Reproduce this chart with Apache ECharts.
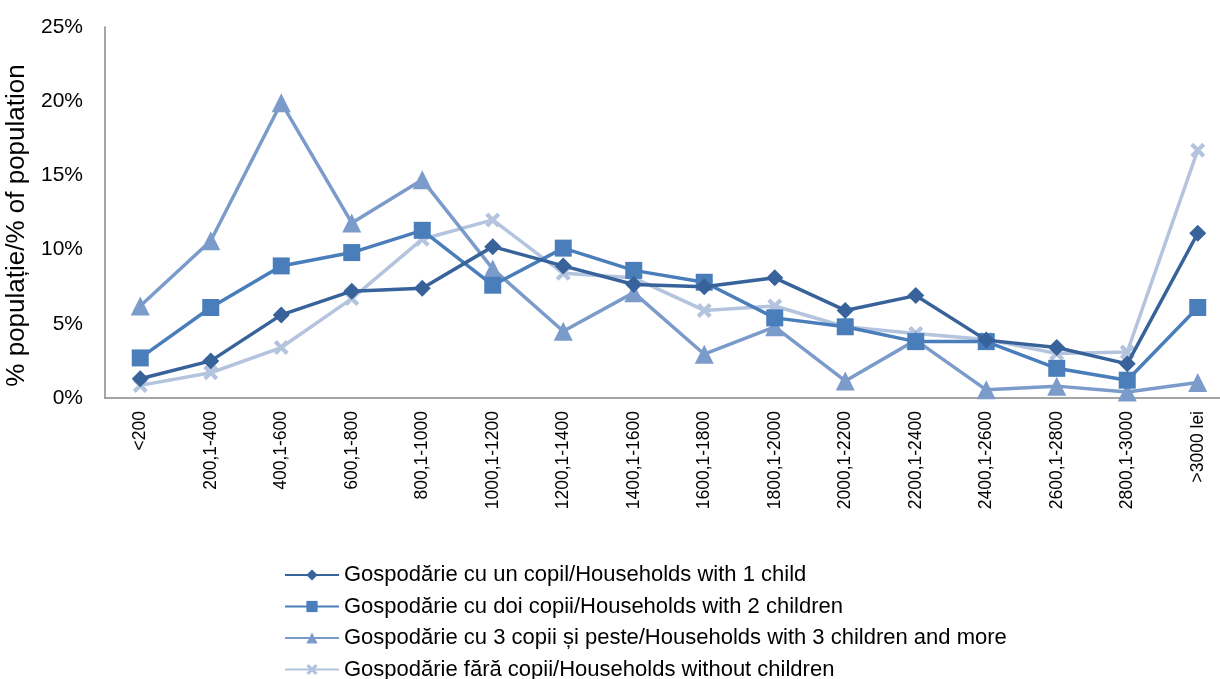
<!DOCTYPE html>
<html>
<head>
<meta charset="utf-8">
<script src="https://cdn.jsdelivr.net/npm/echarts@6/dist/echarts.min.js"></script>
<style>
html,body{margin:0;padding:0;background:#fff;}
#c{width:1220px;height:679px;}
</style>
</head>
<body>
<div id="c"></div>
<script>
const categories = ['<200','200,1-400','400,1-600','600,1-800','800,1-1000','1000,1-1200','1200,1-1400','1400,1-1600','1600,1-1800','1800,1-2000','2000,1-2200','2200,1-2400','2400,1-2600','2600,1-2800','2800,1-3000','>3000 lei'];
const oneChild = [1.3, 2.5, 5.6, 7.2, 7.4, 10.2, 8.9, 7.65, 7.5, 8.1, 5.9, 6.9, 3.9, 3.4, 2.3, 11.1];
const twoChildren = [2.7, 6.1, 8.9, 9.8, 11.3, 7.6, 10.1, 8.6, 7.8, 5.4, 4.8, 3.8, 3.8, 2.0, 1.2, 6.1];
const threePlus = [6.2, 10.6, 19.9, 11.8, 14.7, 8.7, 4.5, 7.1, 2.95, 4.8, 1.15, 3.9, 0.55, 0.8, 0.4, 1.05];
const noChildren = [0.85, 1.7, 3.4, 6.7, 10.7, 12.0, 8.4, 8.1, 5.9, 6.2, 4.8, 4.35, 3.95, 3.0, 3.1, 16.7];
const seriesNames = [
  'Gospodărie cu un copil/Households with 1 child',
  'Gospodărie cu doi copii/Households with 2 children',
  'Gospodărie cu 3 copii și peste/Households with 3 children and more',
  'Gospodărie fără copii/Households without children'
];
const yTicks = [0, 5, 10, 15, 20, 25];

const FONT = '"Liberation Sans", Arial, sans-serif';
const xPath = 'path://M0,2 L2,0 L5,3 L8,0 L10,2 L7,5 L10,8 L8,10 L5,7 L2,10 L0,8 L3,5 Z';
const colors = ['#38629A', '#4A7EBB', '#7B9BCB', '#B4C4DF'];
const symbols = ['diamond', 'rect', 'triangle', xPath];
const sizes = [17, 17, 19, 15];
const datas = [oneChild, twoChildren, threePlus, noChildren];

const chart = echarts.init(document.getElementById('c'), null, {renderer: 'canvas'});
chart.setOption({
  animation: false,
  backgroundColor: '#fff',
  textStyle: {fontFamily: FONT},
  grid: {left: 105, top: 27, right: -13, bottom: 281, outerBoundsMode: 'none', containLabel: false},
  legend: {
    orient: 'vertical',
    left: 284,
    top: 564,
    height: 200,
    padding: 0,
    itemWidth: 54,
    itemHeight: 14,
    itemGap: 9.5,
    textStyle: {fontFamily: FONT, fontSize: 22, lineHeight: 22, color: '#000', padding: [0, 0, 0, 0]},
    data: seriesNames
  },
  xAxis: {
    type: 'category',
    data: categories,
    boundaryGap: true,
    axisLine: {lineStyle: {color: '#888', width: 1.5}},
    axisTick: {show: false},
    axisLabel: {rotate: 90, fontSize: 17.5, color: '#000', margin: 13, interval: 0, fontFamily: FONT}
  },
  yAxis: {
    type: 'value',
    min: 0, max: 25, interval: 5,
    name: '% populație/% of population',
    nameLocation: 'middle',
    nameGap: 69,
    nameTextStyle: {fontSize: 26, color: '#000', fontFamily: FONT, padding: [0, 26, 0, 0]},
    axisLine: {show: true, lineStyle: {color: '#888', width: 1.5}},
    axisTick: {show: false},
    splitLine: {show: false},
    axisLabel: {fontSize: 21, color: '#000', margin: 22, fontFamily: FONT,
      formatter: v => yTicks.includes(v) ? v + '%' : ''}
  },
  series: datas.map((d, i) => ({
    name: seriesNames[i],
    type: 'line',
    data: d,
    symbol: symbols[i],
    symbolSize: sizes[i],
    showAllSymbol: true,
    itemStyle: {color: colors[i]},
    lineStyle: {color: colors[i], width: 3.5},
    z: 4 - i
  }))
});
</script>
</body>
</html>
